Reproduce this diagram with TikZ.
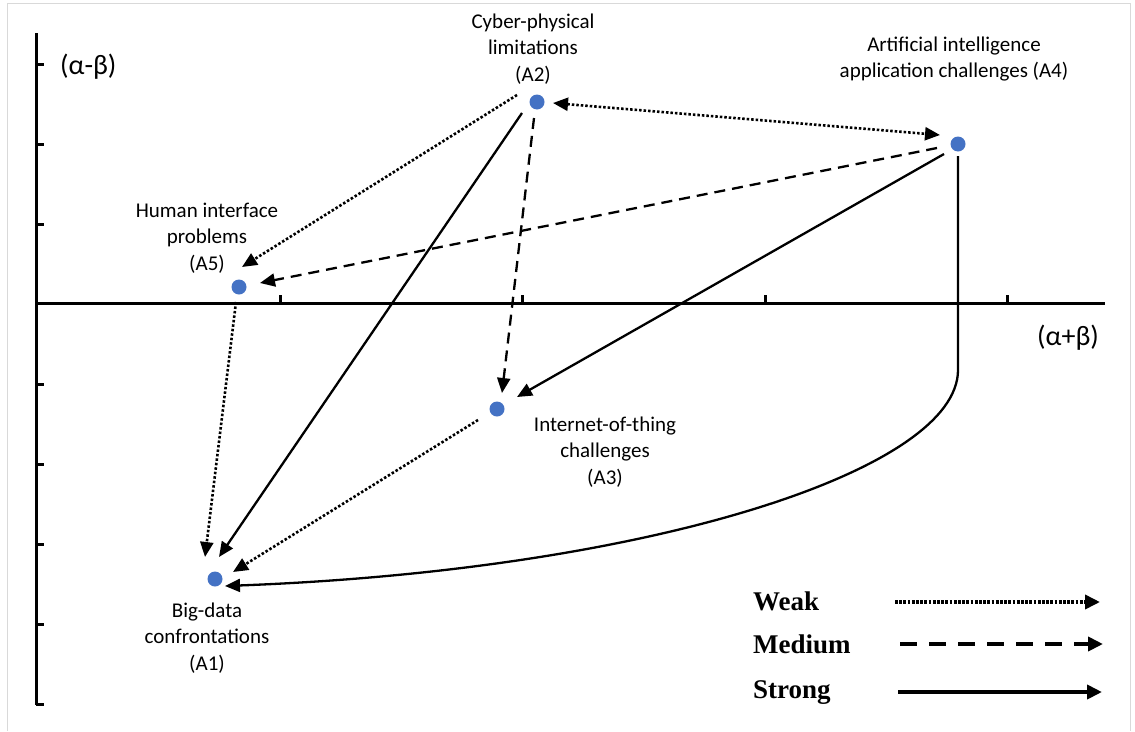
\documentclass[tikz,border=0pt]{standalone}
\usepackage{fontspec}
\setmainfont{Carlito}
\newfontfamily\legendfont{Liberation Serif}
\usetikzlibrary{arrows.meta,calc}
\definecolor{dotblue}{HTML}{4472C4}
\definecolor{framegray}{HTML}{D9D9D9}
\tikzset{
  dot/.style={circle,fill=dotblue,inner sep=0pt,minimum size=15pt},
  lbl/.style={align=center,inner sep=0pt,font=\fontsize{21}{26.5}\selectfont},
  axislbl/.style={inner sep=0pt,font=\fontsize{28}{32}\selectfont},
  leg/.style={inner sep=0pt,font=\legendfont\bfseries\fontsize{27}{30}\selectfont},
  axisline/.style={line width=3pt},
  tip/.style={-{Triangle[length=15pt,width=13pt]}},
  weak/.style={tip,line width=2.6pt,dash pattern=on 2.5pt off 2pt},
  medium/.style={tip,line width=2.3pt,dash pattern=on 11pt off 7pt},
  strong/.style={tip,line width=2.3pt},
  legweak/.style={-{Triangle[length=15pt,width=14pt]},line width=3.6pt,dash pattern=on 2.8pt off 1.4pt},
  legmedium/.style={-{Triangle[length=15pt,width=14pt]},line width=4pt,dash pattern=on 17pt off 12pt},
  legstrong/.style={-{Triangle[length=15pt,width=14pt]},line width=4pt},
}
\begin{document}
\begin{tikzpicture}[x=1pt,y=-1pt]
\useasboundingbox (0,0) rectangle (1135,731);
% frame
\draw[framegray,line width=1pt] (7,731) -- (7,3) -- (1130,3) -- (1130,731);
% axes
\draw[axisline] (36,33) -- (36,705);
\foreach \yy in {64,144,224,384,464,544,624,704} \draw[axisline] (36,\yy) -- (44,\yy);
\draw[axisline] (36,303) -- (1105,303);
\foreach \xx in {280,522,765,1007} \draw[axisline] (\xx,303) -- (\xx,295);
\node[axislbl,anchor=west] (ylab) at (60,67) {(α-β)};
\node[axislbl,anchor=west] (xlab) at (1037,338) {(α+β)};
% nodes
\node[dot] (A1) at (215,579) {};
\node[dot] (A2) at (537,102) {};
\node[dot] (A3) at (497,409) {};
\node[dot] (A4) at (958,144) {};
\node[dot] (A5) at (239,287) {};
% labels
\node[lbl] (L2) at (533,49) {Cyber-physical\\limitations\\(A2)};
\node[lbl] (L4) at (954,59) {Artificial intelligence\\application challenges (A4)};
\node[lbl] (L5) at (207,238) {Human interface\\problems\\(A5)};
\node[lbl] (L3) at (605,452) {Internet-of-thing\\challenges\\(A3)};
\node[lbl] (L1) at (207,638) {Big-data\\confrontations\\(A1)};
% connectors
\draw[weak,{Triangle[length=15pt,width=13pt]}-{Triangle[length=15pt,width=13pt]}] ($(A2)+(16,1)$) -- ($(A4)+(-18,-9)$);
\draw[weak] ($(A2)+(-20,-7)$) -- ($(A5)+(3,-20)$);
\draw[medium] ($(A4)+(-21,4)$) -- ($(A5)+(21,-4)$);
\draw[strong] ($(A2)+(-15,11)$) -- ($(A1)+(4,-22)$);
\draw[medium] ($(A2)+(-3,16)$) -- ($(A3)+(5,-16)$);
\draw[strong] ($(A4)+(-14,10)$) -- ($(A3)+(20,-12)$);
\draw[weak] ($(A5)+(-3,15)$) -- ($(A1)+(-10,-22)$);
\draw[weak] ($(A3)+(-19,11)$) -- ($(A1)+(18,-7)$);
\coordinate (bend) at (958,370);
\draw[strong] ($(A4)+(0,12)$) -- (bend) .. controls (958,470) and (650,570) .. ($(A1)+(10,7)$);
% legend
\node[leg,anchor=base west] (lw) at (753,610) {Weak};
\node[leg,anchor=base west] (lm) at (753,653) {Medium};
\node[leg,anchor=base west] (ls) at (753,698) {Strong};
\coordinate (lw1) at (895,602); \coordinate (lw2) at (1100,602);
\coordinate (lm1) at (900,644); \coordinate (lm2) at (1103,644);
\coordinate (ls1) at (898,692); \coordinate (ls2) at (1102,692);
\draw[legweak] (lw1) -- (lw2);
\draw[legmedium] (lm1) -- (lm2);
\draw[legstrong] (ls1) -- (ls2);
\end{tikzpicture}
\end{document}
